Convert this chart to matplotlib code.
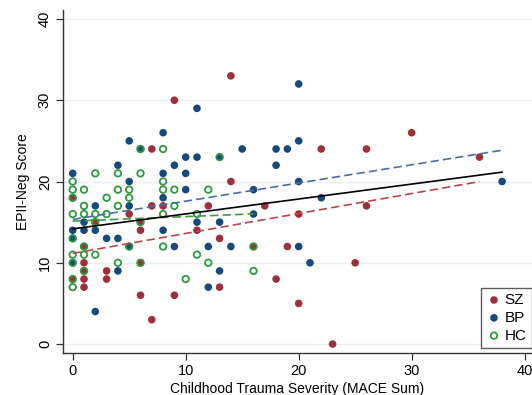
import matplotlib.pyplot as plt
import numpy as np

plt.rcParams['font.family'] = ['Liberation Sans', 'DejaVu Sans']

# ---- data (MACE sum, EPII-Neg score) ----
sz_x = [9, 14, 7, 0, 7, 8, 12, 5, 2, 6, 6, 11, 1, 1, 6, 1, 3, 0, 1, 3, 1, 6, 9, 7,
        22, 14, 17, 20, 13, 16, 19, 25, 18, 13, 20, 23, 26, 30, 36, 26]
sz_y = [30, 33, 24, 18, 17, 17, 17, 16, 15, 15, 14, 14, 12, 10, 10, 9, 9, 8, 8, 8, 7, 6, 6, 3,
        24, 20, 17, 16, 13, 12, 12, 10, 8, 7, 5, 0, 24, 26, 23, 17]

bp_x = [11, 20, 8, 5, 6, 9, 10, 11, 4, 0, 8, 10, 5, 10, 8, 2, 5, 1, 0, 1, 2, 8, 0, 3, 4, 5,
        9, 12, 0, 4, 12, 2, 13, 15, 18, 19, 20, 18, 20, 16, 22, 16, 13, 11, 14, 20, 21, 13, 38]
bp_y = [29, 32, 26, 25, 24, 22, 23, 23, 22, 21, 21, 21, 20, 19, 18, 17, 17, 15, 14, 14, 14, 14, 13, 13, 13, 12,
        12, 12, 10, 9, 7, 4, 23, 24, 24, 24, 25, 22, 20, 19, 18, 16, 15, 15, 12, 12, 10, 9, 20]

hc_x = [6, 8, 2, 4, 6, 0, 8, 0, 1, 4, 5, 8, 9, 12, 0, 3, 5, 1, 4, 9, 0, 1, 2, 3, 8, 11,
        2, 6, 0, 1, 5, 8, 0, 1, 2, 11, 0, 4, 6, 12, 1, 0, 10, 0, 13, 16, 16]
hc_y = [24, 24, 21, 21, 21, 20, 20, 19, 19, 19, 19, 19, 19, 19, 18, 18, 18, 17, 17, 17, 16, 16, 16, 16, 16, 16,
        15, 15, 13, 12, 12, 12, 11, 11, 11, 11, 10, 10, 10, 10, 9, 8, 8, 7, 23, 12, 9]

groups = ["SZ", "BP", "HC"]
red = "#9e2f3b"
blue = "#174a7c"
green = "#2f9a3e"

fig = plt.figure(figsize=(5.32, 3.95), dpi=100)
ax = fig.add_axes([63 / 532, 1 - 353 / 395, 1 - 63 / 532, (353 - 10) / 395])

# grid lines first
for yv in [0, 10, 20, 30, 40]:
    ax.axhline(yv, color="#eaf1f3", lw=1.0, zorder=0)

h_sz = ax.scatter(sz_x, sz_y, s=30, color=red, edgecolors="none", zorder=2, label="SZ")
h_bp = ax.scatter(bp_x, bp_y, s=30, color=blue, edgecolors="none", zorder=3, label="BP")
h_hc = ax.scatter(hc_x, hc_y, s=22, facecolors="none", edgecolors=green, linewidths=1.3,
                  zorder=4, label="HC")


def fit_line(xs, ys, **kw):
    xs = np.asarray(xs, float)
    ys = np.asarray(ys, float)
    b, a = np.polyfit(xs, ys, 1)
    xx = np.array([xs.min(), xs.max()])
    ax.plot(xx, a + b * xx, zorder=5, **kw)


dash = (0, (5, 2.5))
fit_line(sz_x, sz_y, color="#b5474f", lw=1.2, linestyle=dash)
fit_line(bp_x, bp_y, color="#4a6d9f", lw=1.2, linestyle=dash)
fit_line(hc_x, hc_y, color="#3f9a45", lw=1.2, linestyle=dash)
fit_line(sz_x + bp_x + hc_x, sz_y + bp_y + hc_y, color="black", lw=1.2)

ax.set_xlim(-0.86, 40.65)
ax.set_ylim(-1.1, 41.1)
ax.set_xticks([0, 10, 20, 30, 40])
ax.set_yticks([0, 10, 20, 30, 40])
for s in ["top", "right"]:
    ax.spines[s].set_visible(False)
for s in ["left", "bottom"]:
    ax.spines[s].set_color("#333333")
    ax.spines[s].set_linewidth(1.0)
ax.tick_params(axis="both", direction="out", length=5, width=0.9, color="#333333",
               labelsize=10.5, pad=3)
plt.setp(ax.get_yticklabels(), rotation=90, va="center")

ax.set_xlabel("Childhood Trauma Severity (MACE Sum)", fontsize=10, labelpad=3)
ax.set_ylabel("EPII-Neg Score", fontsize=10, labelpad=6)

leg = ax.legend(handles=[h_sz, h_bp, h_hc], loc="lower right",
                bbox_to_anchor=(1.0, 5 / 343), borderaxespad=0, fontsize=11,
                frameon=True, fancybox=False, handletextpad=0.2,
                handlelength=1.0, borderpad=0.35, labelspacing=0.25)
leg.get_frame().set_edgecolor("#333333")
leg.get_frame().set_linewidth(1.0)

fig.savefig("out.png", dpi=100)
